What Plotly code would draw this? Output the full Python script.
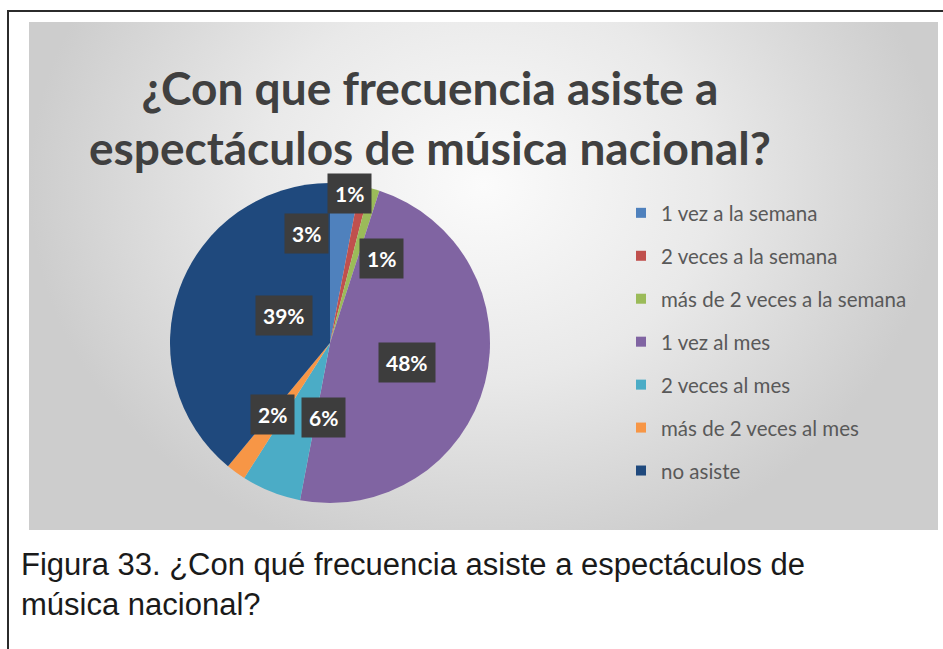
import math
import plotly.graph_objects as go

W, H = 943, 649

# Survey answers and their share (%)
categories = [
    "1 vez a la semana",
    "2 veces a la semana",
    "más de 2 veces a la semana",
    "1 vez al mes",
    "2 veces al mes",
    "más de 2 veces al mes",
    "no asiste",
]
shares = [3, 1, 1, 48, 6, 2, 39]
colors = ["#4F81BD", "#C0504D", "#9BBB59", "#8064A2", "#4BACC6", "#F79646", "#1F497D"]

title_text = "<b>¿Con que frecuencia asiste a<br>espectáculos de música nacional?</b>"
caption_text = "Figura 33. ¿Con qué frecuencia asiste a espectáculos de<br>música nacional?"

# Nudges (px) for data labels that were moved to avoid overlaps
label_shift = [(-31, 30), (2, 71), (29, 8), (0, 0), (0, 0), (-33, -7), (0, 0)]

# Pie placement in pixels
PIE_CX, PIE_CY, PIE_R = 330, 343, 160
pie_dom_x = [(PIE_CX - PIE_R) / W, (PIE_CX + PIE_R) / W]
pie_dom_y = [1 - (PIE_CY + PIE_R) / H, 1 - (PIE_CY - PIE_R) / H]

# Chart area (gray panel) in pixels
AX0, AX1, AY0, AY1 = 29, 938, 22, 530
# Legend panel in pixels
LX0, LX1, LY0, LY1 = 632, 921, 195, 490

fig = go.Figure()

# gray panel with a soft radial gradient, lighter toward the upper middle
fig.add_trace(go.Scatter(
    x=[AX0, AX1, AX1, AX0, AX0],
    y=[-200, -200, AY1 + 40, AY1 + 40, -200],
    mode="lines", line=dict(width=0),
    fill="toself",
    fillgradient=dict(type="radial",
                      colorscale=[[0, "#fbfbfb"], [0.5, "#e9e9e9"], [1, "#cdcdcd"]]),
    hoverinfo="skip", showlegend=False,
))

fig.add_trace(go.Pie(
    labels=categories,
    values=shares,
    sort=False,
    direction="clockwise",
    rotation=0,
    marker=dict(colors=colors, line=dict(width=0)),
    textinfo="none",
    hoverinfo="label+percent",
    showlegend=False,
    domain=dict(x=pie_dom_x, y=pie_dom_y),
))

# legend entries, one group each so the gap spaces them out
for i, (cat, col) in enumerate(zip(categories, colors)):
    fig.add_trace(go.Scatter(
        x=[None], y=[None], mode="markers",
        marker=dict(symbol="square", size=10, color=col),
        name=cat, legendgroup=f"g{i}", showlegend=True,
    ))

# data labels at the slice mid-angle, half-way out
annotations = []
total = sum(shares)
cum = 0
for v, (dx, dy) in zip(shares, label_shift):
    mid = (cum + v / 2) / total * 2 * math.pi
    cum += v
    px = PIE_CX + 0.5 * PIE_R * math.sin(mid)
    py = PIE_CY - 0.5 * PIE_R * math.cos(mid)
    annotations.append(dict(
        x=px / W, y=1 - py / H, xref="paper", yref="paper",
        text=f"<b>{round(v / total * 100)}%</b>", showarrow=False,
        font=dict(family="Lato", size=21, color="white"),
        bgcolor="#3d3d3d", borderpad=7,
        xshift=dx, yshift=dy,
    ))

annotations.append(dict(
    x=430 / W, y=1 - 117 / H, xref="paper", yref="paper",
    text=title_text, showarrow=False, xanchor="center", yanchor="middle",
    font=dict(family="Lato", size=46, color="#404040"),
))
annotations.append(dict(
    x=19 / W, y=1 - 584 / H, xref="paper", yref="paper",
    text=caption_text, showarrow=False, xanchor="left", yanchor="middle", align="left",
    font=dict(family="Liberation Sans", size=31, color="#1a1a1a"),
))

shapes = [
    # legend panel
    dict(type="rect", xref="paper", yref="paper", layer="below",
         x0=LX0 / W, x1=LX1 / W, y0=1 - LY1 / H, y1=1 - LY0 / H,
         fillcolor="rgba(255,255,255,0.3)", line=dict(width=0)),
    # page frame
    dict(type="path", xref="paper", yref="paper",
         path=f"M {8 / W},0 L {8 / W},{1 - 11 / H} L 1,{1 - 11 / H}",
         line=dict(color="#2b2b2b", width=2)),
]

fig.update_layout(
    width=W, height=H,
    margin=dict(l=0, r=0, t=0, b=0),
    paper_bgcolor="white", plot_bgcolor="rgba(0,0,0,0)",
    xaxis=dict(domain=[AX0 / W, AX1 / W], range=[AX0, AX1], visible=False, fixedrange=True),
    yaxis=dict(domain=[1 - AY1 / H, 1 - AY0 / H], range=[AY1, AY0], visible=False, fixedrange=True),
    showlegend=True,
    legend=dict(
        x=621 / W, y=1 - 193 / H, xanchor="left", yanchor="top",
        bgcolor="rgba(0,0,0,0)", borderwidth=0,
        font=dict(family="Lato", size=20.5, color="#595959"),
        traceorder="grouped", tracegroupgap=13.3,
        itemclick=False, itemdoubleclick=False,
    ),
    annotations=annotations,
    shapes=shapes,
)

fig.write_html("out.html")
